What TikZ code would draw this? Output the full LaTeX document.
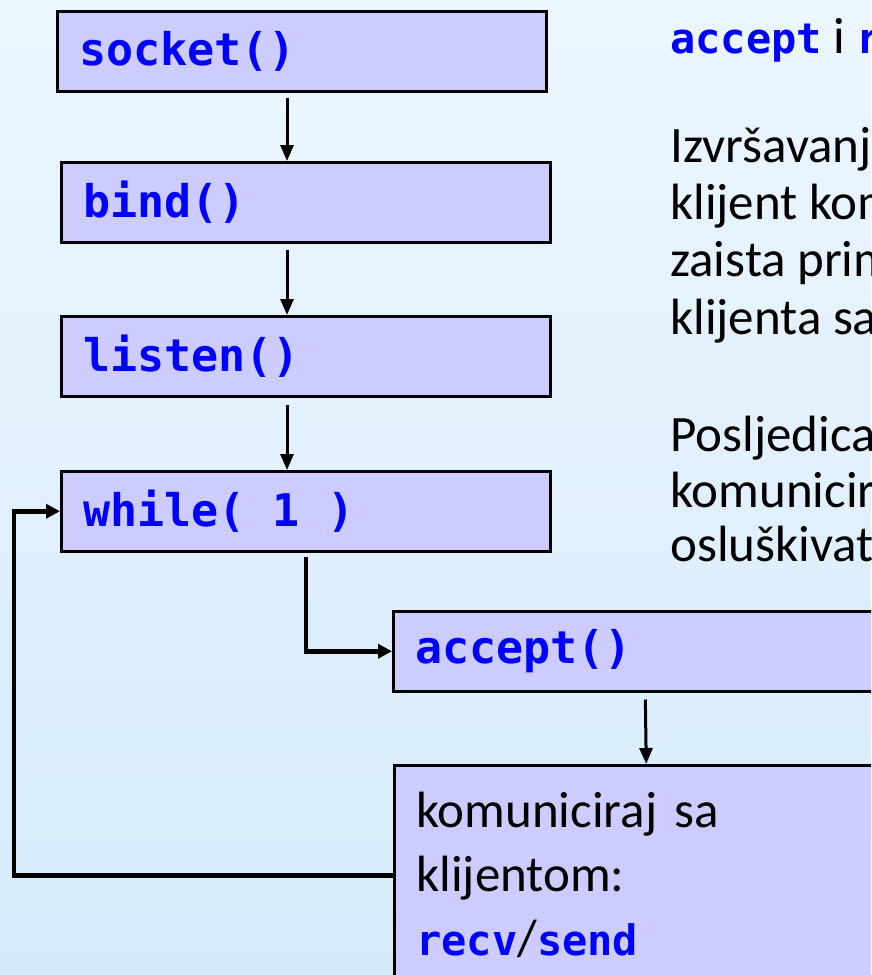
\documentclass[tikz,border=0pt]{standalone}
\usepackage{fontspec}
\setmainfont{Carlito}
\setmonofont{DejaVu Sans Mono}
\usetikzlibrary{arrows.meta}

\definecolor{boxfill}{RGB}{204,204,255}
\definecolor{kodblue}{RGB}{0,0,255}
\definecolor{bgtop}{RGB}{236,246,255}
\definecolor{bgmid}{RGB}{250,252,255}
\definecolor{bgbottom}{RGB}{214,235,250}

\newcommand{\kod}[1]{\textcolor{kodblue}{\fontsize{42}{50}\selectfont\ttfamily\bfseries #1}}
\newcommand{\monosp}{\hspace{0.602em}}

\begin{document}
\begin{tikzpicture}[x=1pt, y=-1pt,
	call/.style={rectangle, draw=black, line width=2.5pt, fill=boxfill, anchor=north west, minimum width=489pt, minimum height=80pt, text width=445pt, inner xsep=22pt, align=left, text=kodblue, font=\fontsize{45}{52}\selectfont\ttfamily\bfseries},
	side/.style={anchor=base west, inner sep=0pt, font=\fontsize{51}{58}\selectfont},
	flow/.style={line width=3pt, -{Triangle[length=16pt, width=13pt]}},
	loopline/.style={line width=4.5pt, -{Triangle[length=14pt, width=14pt]}}
	]
	\shade[top color=bgtop, middle color=bgmid, bottom color=bgbottom] (0,0) rectangle (871,975);
	\useasboundingbox (0,0) rectangle (871,975);
	\clip (0,0) rectangle (871,975);

	% boxes of the server loop
	\node[call] (socket) at (56,10) {socket()};
	\node[call] (bind) at (60,161) {bind()};
	\node[call] (listen) at (60,315) {listen()};
	\node[call] (while) at (60,470) {while(\monosp1\monosp)};
	\node[call, minimum width=504pt, text width=460pt] (accept) at (392,610) {accept()};
	\node[call, minimum width=504pt, text width=460pt, minimum height=220pt, text=black, font=\fontsize{51}{64}\selectfont] (comm) at (393,764) {komuniciraj sa\\klijentom:\\\kod{recv}/\kod{send}};

	% text beside the boxes
	\node[side] (head) at (670,53) {\kod{accept} i \kod{r}};
	\node[side] (lineA) at (670,162) {Izvršavanj};
	\node[side] (lineB) at (670,219) {klijent kom};
	\node[side] (lineC) at (670,276) {zaista prim};
	\node[side] (lineD) at (670,334) {klijenta sa};
	\node[side] (lineE) at (670,451) {Posljedica};
	\node[side] (lineF) at (670,507) {komunicir};
	\node[side] (lineG) at (670,561) {osluškivat};

	\coordinate (colx) at (287,0);
	\coordinate (loopx) at (14,0);

	\draw[flow, shorten <=5pt] (socket.south -| colx) -- (bind.north -| colx);
	\draw[flow, shorten <=6pt] (bind.south -| colx) -- (listen.north -| colx);
	\draw[flow, shorten <=7pt] (listen.south -| colx) -- (while.north -| colx);
	\draw[loopline, shorten <=4pt] (while.south) |- (accept.west);
	\draw[flow, shorten <=7pt] (accept.south) -- (comm.north);
	\draw[loopline] (comm.west) -- (comm.west -| loopx) |- (while.west);
\end{tikzpicture}
\end{document}
